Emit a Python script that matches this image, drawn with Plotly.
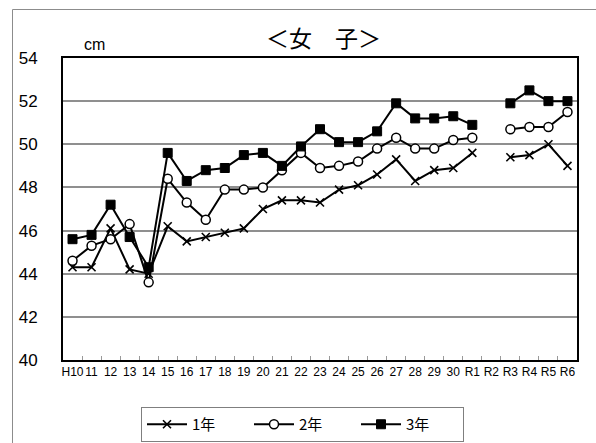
import plotly.graph_objects as go

categories = ["H10", "11", "12", "13", "14", "15", "16", "17", "18", "19", "20",
              "21", "22", "23", "24", "25", "26", "27", "28", "29", "30",
              "R1", "R2", "R3", "R4", "R5", "R6"]

grade1 = [44.3, 44.3, 46.1, 44.2, 44.0, 46.2, 45.5, 45.7, 45.9, 46.1, 47.0,
          47.4, 47.4, 47.3, 47.9, 48.1, 48.6, 49.3, 48.3, 48.8, 48.9,
          49.6, None, 49.4, 49.5, 50.0, 49.0]
grade2 = [44.6, 45.3, 45.6, 46.3, 43.6, 48.4, 47.3, 46.5, 47.9, 47.9, 48.0,
          48.8, 49.6, 48.9, 49.0, 49.2, 49.8, 50.3, 49.8, 49.8, 50.2,
          50.3, None, 50.7, 50.8, 50.8, 51.5]
grade3 = [45.6, 45.8, 47.2, 45.7, 44.3, 49.6, 48.3, 48.8, 48.9, 49.5, 49.6,
          49.0, 49.9, 50.7, 50.1, 50.1, 50.6, 51.9, 51.2, 51.2, 51.3,
          50.9, None, 51.9, 52.5, 52.0, 52.0]

names = ["1年", "2年", "3年"]
y_ticks = [40, 42, 44, 46, 48, 50, 52, 54]

JP = "Noto Sans CJK JP, Liberation Sans, Arial, sans-serif"
NUM = "Liberation Sans, Arial, sans-serif"

fig = go.Figure()
fig.add_trace(go.Scatter(
    x=categories, y=grade1, name=names[0], mode="lines+markers",
    line=dict(color="black", width=2),
    marker=dict(symbol="x-thin", size=8, color="black",
                line=dict(color="black", width=1.6)),
    connectgaps=False))
fig.add_trace(go.Scatter(
    x=categories, y=grade2, name=names[1], mode="lines+markers",
    line=dict(color="black", width=2),
    marker=dict(symbol="circle", size=9, color="white",
                line=dict(color="black", width=1.5)),
    connectgaps=False))
fig.add_trace(go.Scatter(
    x=categories, y=grade3, name=names[2], mode="lines+markers",
    line=dict(color="black", width=2),
    marker=dict(symbol="square", size=9, color="black",
                line=dict(color="black", width=1)),
    connectgaps=False))

fig.update_layout(
    width=596, height=443,
    margin=dict(l=63, r=19, t=58, b=83, autoexpand=False),
    paper_bgcolor="white", plot_bgcolor="white",
    font=dict(family=JP, color="black"),
    showlegend=True,
    legend=dict(
        orientation="h", xref="container", yref="container",
        x=141 / 596, y=(443 - 407) / 443,
        xanchor="left", yanchor="top",
        bordercolor="#7f7f7f", borderwidth=1, bgcolor="white",
        font=dict(family=JP, size=15, color="black"),
        entrywidth=52, itemwidth=40,
    ),
    xaxis=dict(
        type="category", categoryorder="array", categoryarray=categories,
        range=[-0.5, len(categories) - 0.5],
        showgrid=False, zeroline=False,
        showline=True, linecolor="black", linewidth=2, mirror=True,
        ticks="inside", tickson="boundaries", ticklen=4, tickcolor="#999999",
        tickwidth=1,
        tickfont=dict(family=NUM, size=12, color="black"),
        tickangle=0,
    ),
    yaxis=dict(
        range=[40, 54], tickvals=y_ticks,
        showgrid=True, gridcolor="#8f8f8f", gridwidth=1.5,
        zeroline=False,
        showline=True, linecolor="black", linewidth=2, mirror=True,
        ticks="", ticklabelstandoff=20,
        tickfont=dict(family=NUM, size=17, color="black"),
    ),
    annotations=[
        dict(text="＜女　子＞", xref="paper", yref="paper",
             x=(323 - 63) / 514, y=(360 - 37) / 302,
             xanchor="center", yanchor="middle", showarrow=False,
             font=dict(family=JP, size=23, color="black")),
        dict(text="cm", xref="paper", yref="paper",
             x=(94 - 63) / 514, y=(360 - 44) / 302,
             xanchor="center", yanchor="middle", showarrow=False,
             font=dict(family=NUM, size=16, color="black")),
    ],
    shapes=[
        dict(type="rect", xref="paper", yref="paper",
             x0=(12.5 - 63) / 514, x1=(610 - 63) / 514,
             y0=(360 - 450) / 302, y1=(360 - 9.5) / 302,
             line=dict(color="#8c8c8c", width=1), fillcolor="rgba(0,0,0,0)",
             layer="below"),
    ],
)

fig.write_html("out.html",
               config={"displayModeBar": False},
               post_script="document.body.style.margin='0';document.body.style.overflow='hidden';")
